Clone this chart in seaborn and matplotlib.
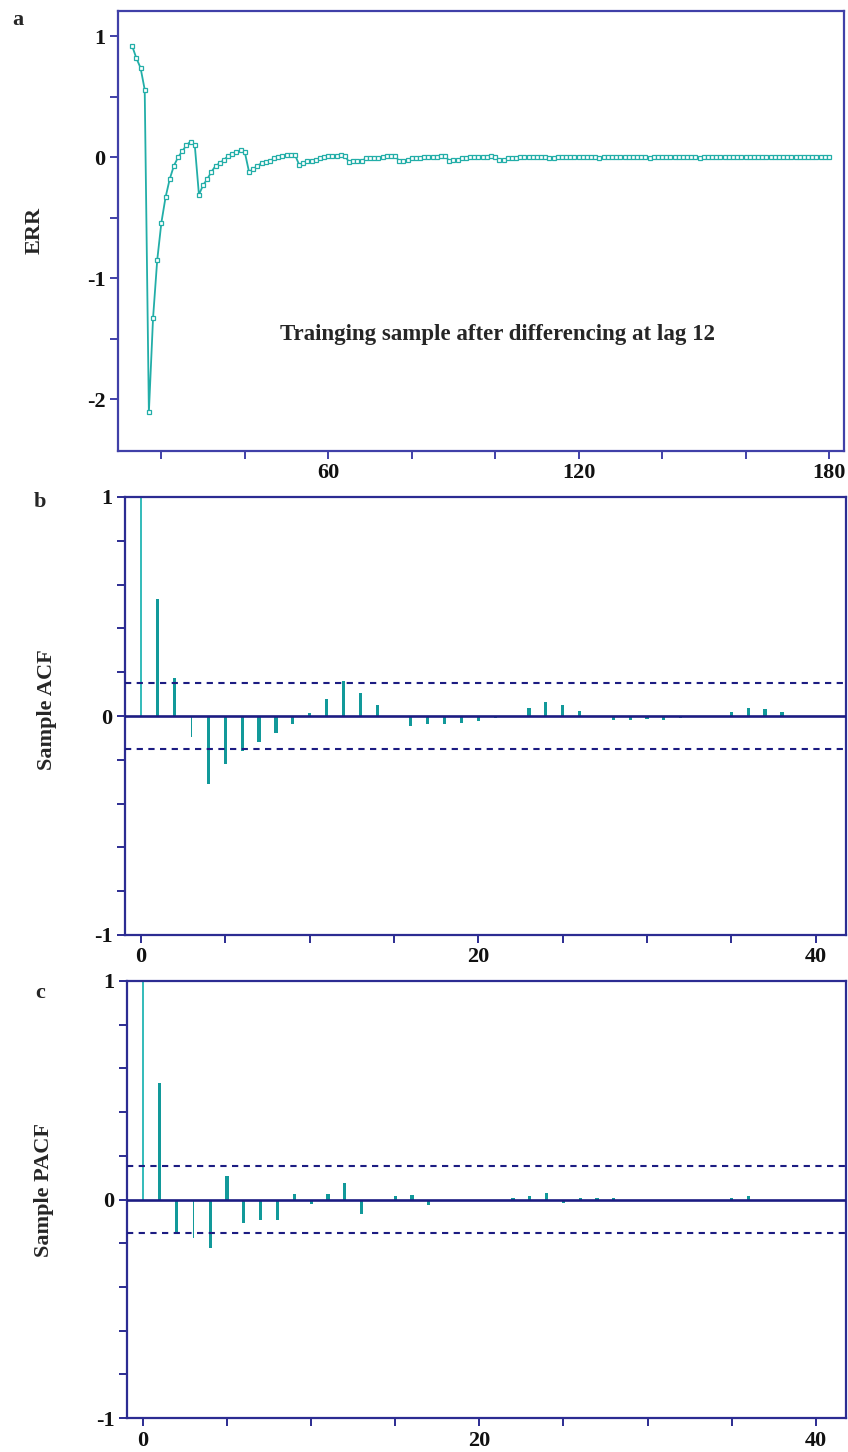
import numpy as np
import pandas as pd
import matplotlib
matplotlib.use("Agg")
from matplotlib import pyplot as plt
import seaborn as sns

# ---- values ----
err_t = list(range(13, 181))
err = [0.92, 0.82, 0.74, 0.56,
       -2.11, -1.33, -0.85, -0.54, -0.33, -0.18, -0.07, 0.00, 0.05, 0.10, 0.13, 0.10,
       -0.31, -0.23, -0.18, -0.12, -0.07, -0.05, -0.02, 0.01, 0.03, 0.04, 0.06, 0.04,
       -0.12, -0.10, -0.07, -0.05, -0.04, -0.03, -0.01, 0.00, 0.01, 0.02, 0.02, 0.02,
       -0.06, -0.05, -0.03, -0.03, -0.02, -0.01, 0.00, 0.01, 0.01, 0.01, 0.02, 0.01,
       -0.04, -0.03, -0.03, -0.03, -0.01, -0.01, -0.01, -0.01, 0.00, 0.01, 0.01, 0.01,
       -0.03, -0.03, -0.02, -0.01, -0.01, -0.01, 0.00, 0.00, 0.00, 0.00, 0.01, 0.01,
       -0.03, -0.02, -0.02, -0.01, -0.01, 0.00, 0.00, 0.00, 0.00, 0.00, 0.01, 0.00,
       -0.02, -0.02, -0.01, -0.01, -0.01, 0.00, 0.00, 0.00, 0.00, 0.00, 0.00, 0.00,
       -0.01, -0.01, 0.00, 0.00, 0.00, 0.00, 0.00, 0.00, 0.00, 0.00, 0.00, 0.00,
       -0.005, 0.00, 0.00, 0.00, 0.00, 0.00, 0.00, 0.00, 0.00, 0.00, 0.00, 0.00,
       -0.005, 0.00, 0.00, 0.00, 0.00, 0.00, 0.00, 0.00, 0.00, 0.00, 0.00, 0.00,
       -0.005, 0.00, 0.00, 0.00, 0.00, 0.00, 0.00, 0.00, 0.00, 0.00, 0.00, 0.00,
       0.00, 0.00, 0.00, 0.00, 0.00, 0.00, 0.00, 0.00, 0.00, 0.00, 0.00, 0.00,
       0.00, 0.00, 0.00, 0.00, 0.00, 0.00, 0.00, 0.00]

acf_lag = list(range(0, 39))
acf = [1.0, 0.535, 0.172, -0.095, -0.311, -0.219, -0.159, -0.118, -0.077, -0.035,
       0.014, 0.079, 0.159, 0.104, 0.048, 0.0, -0.045, -0.038, -0.038, -0.030,
       -0.023, -0.009, 0.0, 0.036, 0.064, 0.048, 0.024, 0.0, -0.017, -0.017,
       -0.015, -0.017, -0.009, 0.0, 0.0, 0.017, 0.036, 0.030, 0.017]

pacf_lag = list(range(0, 37))
pacf = [1.0, 0.535, -0.160, -0.175, -0.223, 0.109, -0.106, -0.094, -0.094, 0.026,
        -0.020, 0.027, 0.076, -0.065, 0.0, 0.014, 0.020, -0.026, 0.0, 0.0,
        0.0, 0.0, 0.009, 0.015, 0.030, -0.017, 0.009, 0.009, 0.009, 0.0,
        0.0, 0.0, 0.0, 0.0, 0.0, 0.009, 0.015]

conf = 0.152
thin_acf = [0, 3]
thin_pacf = [0, 3]

sns.set_theme(style="ticks")
plt.rcParams["font.family"] = ["Liberation Serif", "DejaVu Serif"]
plt.rcParams["font.weight"] = "bold"

teal = "#22aea8"
bar_col = "#12999a"
thin_col = "#38bcbb"
navy = "#1c1c82"
spine_a = "#4040a8"
spine_bc = "#2c2c92"

W, H = 848, 1452
fig = plt.figure(figsize=(W / 100, H / 100), dpi=100)


def box(l, r, t, b):
    return [l / W, 1 - b / H, (r - l) / W, (b - t) / H]


def style_axes(ax, col):
    for s in ax.spines.values():
        s.set_visible(True)
        s.set_color(col)
        s.set_linewidth(1.6)
    ax.tick_params(direction="out", length=6, width=1.4, color=col,
                   labelsize=16, labelcolor="#111111", pad=3)
    for lab in ax.get_xticklabels() + ax.get_yticklabels():
        lab.set_fontweight("bold")
    ax.set_xlabel("")
    ax.set_ylabel("")


# ---- panel a ----
ax_a = fig.add_axes(box(118, 844, 11, 451))
sns.lineplot(x=err_t, y=err, ax=ax_a, color=teal, lw=1.3, marker="s",
             markersize=3.4, markerfacecolor="white", markeredgecolor=teal,
             markeredgewidth=0.9)
ax_a.set_xlim(9.6, 183.6)
ax_a.set_ylim(-2.43, 1.21)
ax_a.set_xticks(range(20, 181, 20))
ax_a.set_xticklabels(["", "", "60", "", "", "120", "", "", "180"])
ax_a.set_yticks([-2, -1.5, -1, -0.5, 0, 0.5, 1])
ax_a.set_yticklabels(["-2", "", "-1", "", "0", "", "1"])
style_axes(ax_a, spine_a)
ax_a.text(100.5, -1.47, "Trainging sample after differencing at lag 12",
          ha="center", va="center", fontsize=16.5, fontweight="bold")


def corr_panel(ax, lags, vals, thin):
    sns.barplot(x=lags, y=vals, ax=ax, native_scale=True, width=0.19,
                color=bar_col, saturation=1, errorbar=None, linewidth=0)
    for i in thin:
        p = ax.patches[i]
        cx = p.get_x() + p.get_width() / 2
        p.set_width(0.1)
        p.set_x(cx - 0.05)
        p.set_facecolor(thin_col if i == 0 else bar_col)
    ax.axhline(0, color=navy, lw=1.9, zorder=3)
    for c in (conf, -conf):
        ax.axhline(c, color=navy, lw=1.5, ls=(0, (3, 2.6)), zorder=3)
    ax.set_xlim(-0.95, 41.8)
    ax.set_ylim(-1, 1)
    ax.set_xticks(range(0, 41, 5))
    ax.set_xticklabels(["0", "", "", "", "20", "", "", "", "40"])
    yt = np.round(np.linspace(-1, 1, 11), 1)
    ax.set_yticks(yt)
    ax.set_yticklabels(["-1" if v == -1 else "0" if v == 0 else "1" if v == 1 else "" for v in yt])
    style_axes(ax, spine_bc)


ax_b = fig.add_axes(box(125, 846, 497, 935))
corr_panel(ax_b, acf_lag, acf, thin_acf)

ax_c = fig.add_axes(box(127, 846, 981, 1418))
corr_panel(ax_c, pacf_lag, pacf, thin_pacf)

# ---- labels ----
lab_kw = dict(fontsize=16, fontweight="bold", ha="center", va="center")
fig.text(35 / W, 1 - 230 / H, "ERR", rotation=90, **lab_kw)
fig.text(47 / W, 1 - 710 / H, "Sample ACF", rotation=90, **lab_kw)
fig.text(44 / W, 1 - 1190 / H, "Sample PACF", rotation=90, **lab_kw)
fig.text(18 / W, 1 - 20 / H, "a", **lab_kw)
fig.text(40 / W, 1 - 502 / H, "b", **lab_kw)
fig.text(40 / W, 1 - 993 / H, "c", **lab_kw)

fig.savefig("out.png", dpi=100, facecolor="white")
